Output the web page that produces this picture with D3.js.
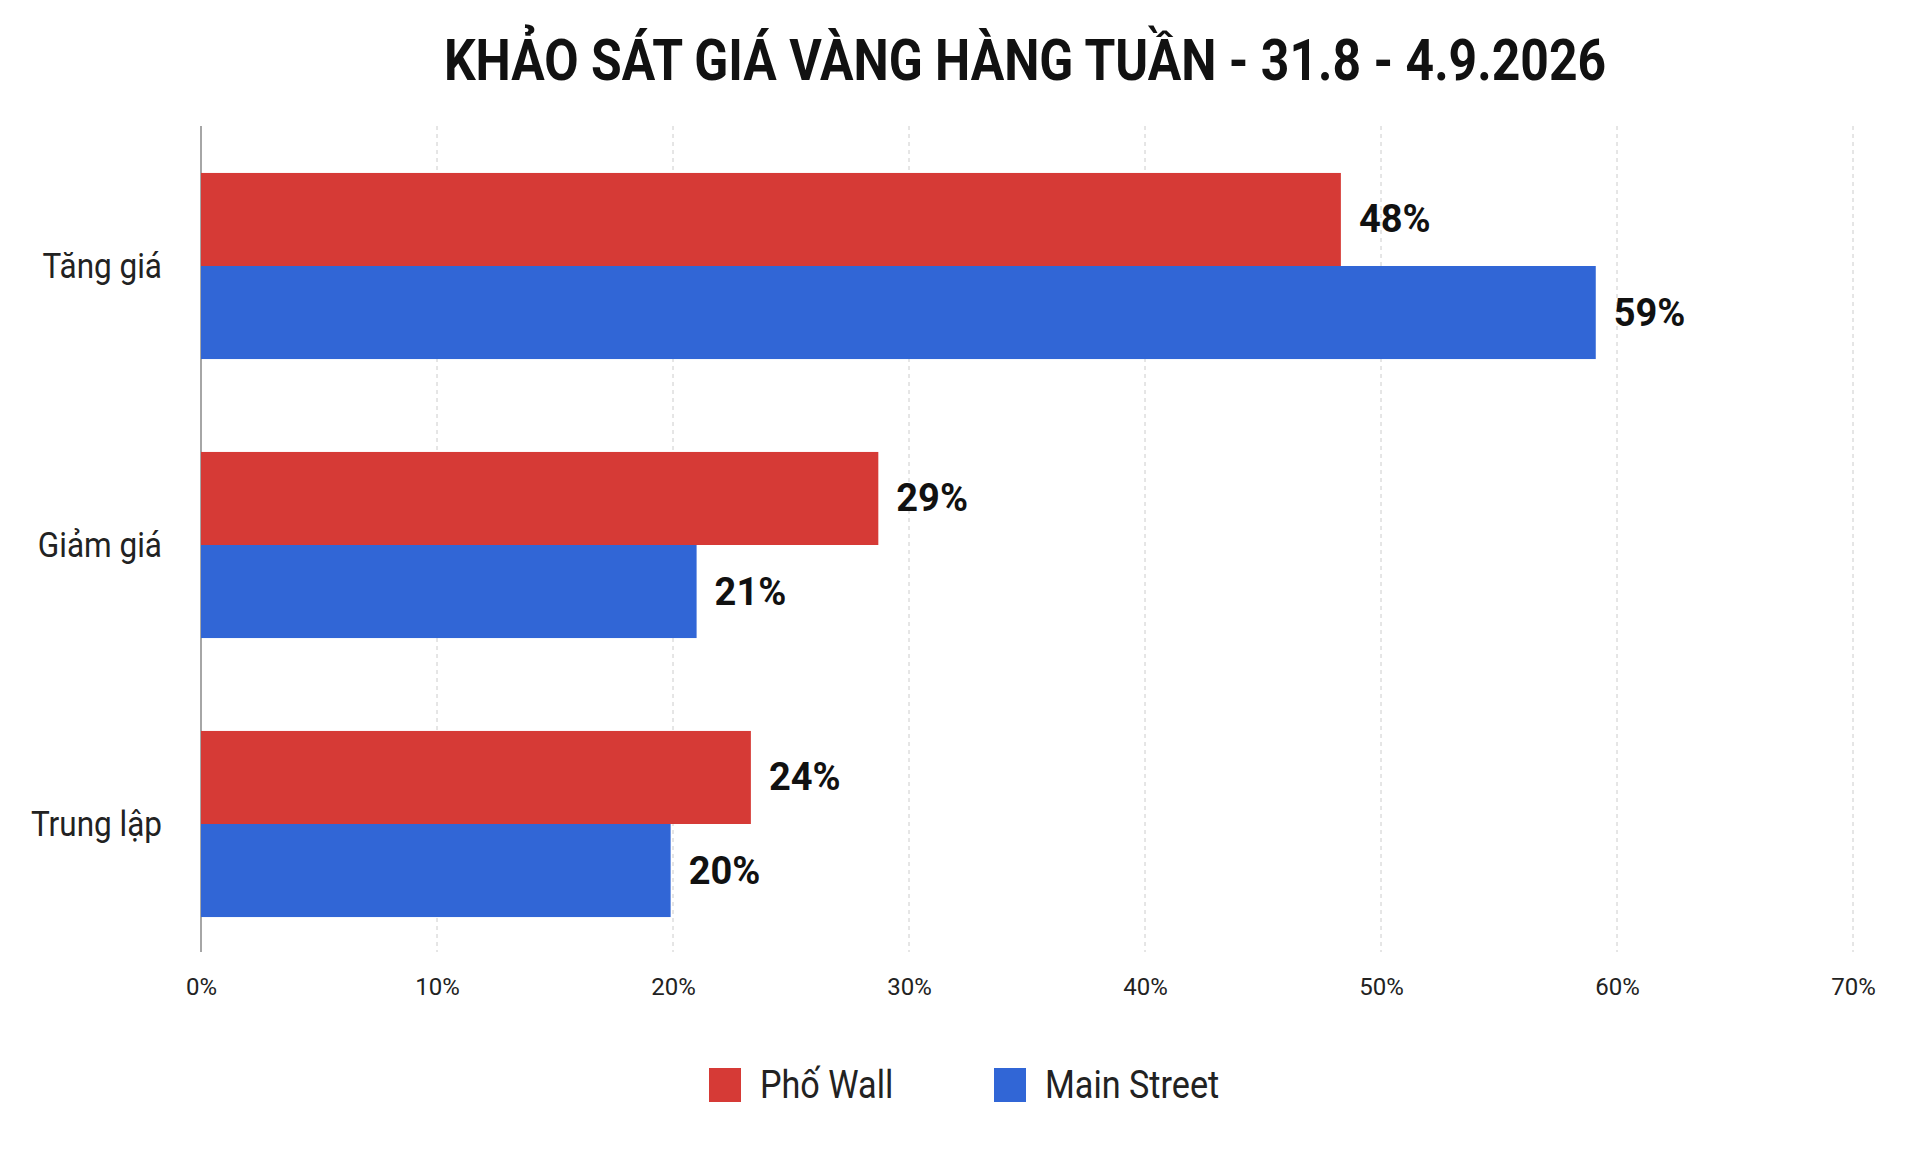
<!DOCTYPE html>
<html><head><meta charset="utf-8">
<script src="https://cdn.jsdelivr.net/npm/d3@7"></script>
<style>body{margin:0;background:#fff}text{font-family:Roboto,"Noto Sans",sans-serif}</style>
</head><body><svg id="c" width="1914" height="1150"></svg>
<script>
const categories = ["Tăng giá", "Giảm giá", "Trung lập"];
const series = ["Phố Wall", "Main Street"];
const wallValues = [48.3, 28.7, 23.3];
const mainValues = [59.1, 21, 19.9];
const wallLabels = ["48%", "29%", "24%"];
const mainLabels = ["59%", "21%", "20%"];
const ticks = [0, 10, 20, 30, 40, 50, 60, 70];
const colors = ["#d63a36", "#3166d6"];

const svg = d3.select("#c");
const x = d3.scaleLinear().domain([0, 70]).range([201, 1853]);
const y = d3.scaleBand().domain(categories).range([126.5, 963.5]).paddingInner(0.333).paddingOuter(0.1665);
const sub = d3.scaleBand().domain(series).range([0, y.bandwidth()]);

// title
svg.append("text").attr("x", 1025).attr("y", 80).attr("text-anchor", "middle")
  .attr("font-size", 58).attr("font-weight", "bold").attr("fill", "#111")
  .attr("transform", "translate(1025,0) scale(0.86,1) translate(-1025,0)")
  .text("KHẢO SÁT GIÁ VÀNG HÀNG TUẦN - 31.8 - 4.9.2026");

// grid
svg.append("g").selectAll("line").data(ticks.slice(1)).join("line")
  .attr("x1", d => x(d)).attr("x2", d => x(d)).attr("y1", 126).attr("y2", 952)
  .attr("stroke", "#ccc").attr("stroke-dasharray", "4,4");
svg.append("line").attr("x1", x(0)).attr("x2", x(0)).attr("y1", 126).attr("y2", 952)
  .attr("stroke", "#888").attr("stroke-width", 1.5);

// x tick labels
svg.append("g").attr("transform", "translate(0,975)")
  .call(d3.axisBottom(x).tickValues(ticks).tickFormat(d => d + "%").tickSize(0))
  .call(g => g.select(".domain").remove())
  .selectAll("text").attr("font-size", 24).attr("fill", "#222");

// category labels
svg.append("g").selectAll("text").data(categories).join("text")
  .attr("x", 162).attr("y", d => y(d) + y.bandwidth() / 2 + 12)
  .attr("text-anchor", "end").attr("font-size", 35).attr("fill", "#222")
  .attr("transform", d => `translate(162,0) scale(0.9,1) translate(-162,0)`)
  .text(d => d);

const sets = [[wallValues, wallLabels], [mainValues, mainLabels]];
sets.forEach(([vals, labs], si) => {
  const g = svg.append("g");
  g.selectAll("rect").data(categories).join("rect")
    .attr("x", x(0)).attr("y", (d) => y(d) + sub(series[si]))
    .attr("width", (d, i) => x(vals[i]) - x(0)).attr("height", sub.bandwidth())
    .attr("fill", colors[si]);
  g.selectAll("text").data(categories).join("text")
    .attr("x", (d, i) => x(vals[i]) + 18).attr("y", d => y(d) + sub(series[si]) + sub.bandwidth() / 2 + 13)
    .attr("font-size", 38).attr("font-weight", "bold").attr("fill", "#111")
    .text((d, i) => labs[i]);
});

// legend
const leg = [{x: 709}, {x: 994}];
series.forEach((s, i) => {
  svg.append("rect").attr("x", leg[i].x).attr("y", 1068).attr("width", 32).attr("height", 34).attr("fill", colors[i]);
  svg.append("text").attr("x", leg[i].x + 51).attr("y", 1098).attr("font-size", 38).attr("fill", "#222")
    .attr("transform", `translate(${leg[i].x + 51},0) scale(0.9,1) translate(${-(leg[i].x + 51)},0)`).text(s);
});
</script></body></html>
